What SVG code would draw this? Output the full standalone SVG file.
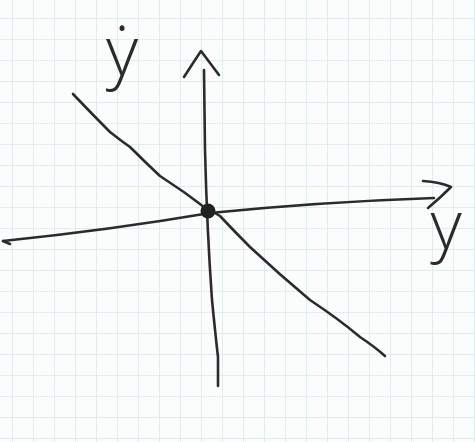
<svg xmlns="http://www.w3.org/2000/svg" width="475" height="442" viewBox="0 0 475 442">
  <style>
    .ink { fill: none; stroke: #2b2b2b; stroke-width: 2.6; stroke-linecap: round; stroke-linejoin: round; }
    .lbl { font-family: "Open Sans", "Lato", "DejaVu Sans", sans-serif; font-weight: 300; fill: #2b2b2b; text-anchor: middle; }
  </style>
  <defs>
    <pattern id="grid" x="12" y="18" width="21" height="21" patternUnits="userSpaceOnUse">
      <path d="M0,0 V21 M0,0 H21" stroke="#d9e6ea" stroke-width="1.5" fill="none"/>
    </pattern>
  </defs>
  <rect width="475" height="442" fill="#fbfdfd"/>
  <rect width="475" height="442" fill="url(#grid)"/>
  <g id="connectors">
    <g id="vertical-axis">
      <path class="ink" d="M204,70 L205,150 Q207,230 212,300 Q216,340 218,357 L218,386"/>
      <path class="ink" d="M184,77 Q193,63 201,51 Q210,63 219,75"/>
    </g>
    <g id="horizontal-axis">
      <path class="ink" d="M3,241 Q110,230 210,213 Q320,202 434,198"/>
      <path class="ink" d="M3,241 L10,244"/>
      <path class="ink" d="M423,181 Q440,182 451,187 Q440,198 428,208"/>
    </g>
    <g id="line">
      <path class="ink" d="M73,94 Q95,117 110,132 Q120,140 130,147 Q145,162 160,176 Q185,192 208,210 Q214,212 220,216 Q235,232 250,247 Q280,275 310,300 Q340,320 360,337 Q375,347 385,356"/>
    </g>
  </g>
  <g id="origin">
    <circle cx="208" cy="211" r="7.5" fill="#222"/>
  </g>
  <g id="label-ydot">
    <text class="lbl" x="122" y="76" font-size="70">ẏ</text>
  </g>
  <g id="label-y">
    <text class="lbl" x="446" y="249" font-size="68">y</text>
  </g>
</svg>
